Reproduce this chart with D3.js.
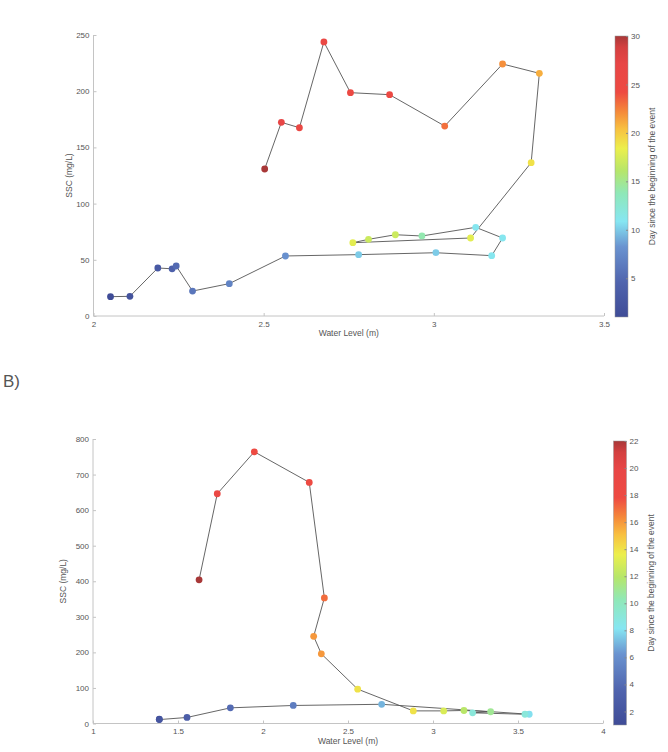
<!DOCTYPE html>
<html><head><meta charset="utf-8">
<script src="https://cdn.jsdelivr.net/npm/d3@7"></script>
<style>body{margin:0;background:#fff}svg text{font-family:"Liberation Sans",Arial,sans-serif}</style>
</head><body><svg id="c" width="668" height="752"></svg>
<script>
// Panel A data
const topWL  = [2.05,2.107,2.189,2.231,2.243,2.291,2.399,2.564,2.779,3.006,3.170,3.202,3.123,2.965,2.887,2.808,2.762,3.108,3.286,3.310,3.202,3.032,2.870,2.755,2.677,2.605,2.552,2.503];
const topSSC = [17.2,17.5,42.7,42,44.5,22.2,28.8,53.4,54.6,56.3,53.7,69.4,78.9,71.2,72.3,68.2,65.2,69.4,136.4,215.9,224.2,169.0,196.9,198.7,243.8,167.5,172.3,130.8];
const topDay = [1,2,3,4,5,6,7,8,10,10,11,11,11,14,17,17,18,18,19,21,22,23,25,25,26,26,27,30];
// Panel B data
const botWL  = [1.39,1.39,1.553,1.808,2.178,2.698,3.566,3.541,3.233,3.339,3.182,3.063,2.884,2.557,2.343,2.298,2.361,2.272,1.949,1.731,1.624];
const botSSC = [12,11,17,44,50.7,54,26,26,30,33,36.6,35.5,35.5,96.6,196,245,353,678,764,646,404];
const botDay = [1,2,3,4,5,7,8,9,9,11,12,13,14,14,16,16,17,18,18,19,22];

const topXTicks=[2,2.5,3,3.5], topYTicks=[0,50,100,150,200,250], topCTicks=[5,10,15,20,25,30];
const botXTicks=[1,1.5,2,2.5,3,3.5,4], botYTicks=[0,100,200,300,400,500,600,700,800], botCTicks=[2,4,6,8,10,12,14,16,18,20,22];

const svg=d3.select("#c");
const cmapStops=["#3f4c97","#4f63ad","#6a93d0","#86e6f2","#8fe8b8","#b6e66a","#ecef4c","#f8c040","#f58a3a","#ee4a42","#e84646","#d44040","#a83838"];
const cmapPos=[0,0.12,0.25,0.34,0.44,0.52,0.6,0.67,0.73,0.8,0.9,0.96,1];
const cmapScale=d3.scaleLinear().domain(cmapPos).range(cmapStops).interpolate(d3.interpolateRgb);

function panel(o){
  const x=d3.scaleLinear().domain(o.xd).range([o.x0,o.x1]);
  const y=d3.scaleLinear().domain(o.yd).range([o.y0,o.y1]);
  const c=d3.scaleLinear().domain(o.cd).range([0,1]);
  const g=svg.append("g");
  const ax=g.append("g").attr("transform",`translate(0,${o.y0})`)
    .call(d3.axisBottom(x).tickValues(o.xt).tickSize(-3).tickPadding(5).tickFormat(d=>String(d)));
  const ay=g.append("g").attr("transform",`translate(${o.x0},0)`)
    .call(d3.axisLeft(y).tickValues(o.yt).tickSize(-3).tickPadding(4).tickFormat(d=>String(d)));
  [ax,ay].forEach(a=>{a.selectAll("path,line").attr("stroke","#c4c4c4");
    a.selectAll("text").attr("fill","#555").style("font-size","8px").style("font-family","Liberation Sans,Arial,sans-serif");});
  ax.select(".domain").attr("d",`M${o.x0},0H${o.x1}`);
  ay.select(".domain").attr("d",`M0,${o.y0}V${o.y1}`);
  g.append("text").attr("x",(o.x0+o.x1)/2).attr("y",o.y0+20).attr("text-anchor","middle")
    .attr("fill","#555").style("font-size","8.5px").text("Water Level (m)");
  g.append("text").attr("transform",`translate(${o.ylx},${(o.y0+o.y1)/2}) rotate(-90)`).attr("text-anchor","middle")
    .attr("fill","#555").style("font-size","8.5px").text("SSC (mg/L)");
  const pts=o.wl.map((w,i)=>({w,s:o.ssc[i],d:o.day[i]}));
  g.append("path").datum(pts).attr("fill","none").attr("stroke","#555").attr("stroke-width",0.9)
    .attr("d",d3.line().x(p=>x(p.w)).y(p=>y(p.s)));
  g.selectAll("circle.p").data(pts).enter().append("circle").attr("class","p")
    .attr("cx",p=>x(p.w)).attr("cy",p=>y(p.s)).attr("r",3.4).attr("fill",p=>cmapScale(c(p.d)));
  // colorbar
  const cb=d3.scaleLinear().domain(o.cd).range([o.cbBottom,o.cbTop]);
  const gid="grad"+o.id;
  const grad=svg.append("defs").append("linearGradient").attr("id",gid).attr("x1",0).attr("y1",1).attr("x2",0).attr("y2",0);
  cmapPos.forEach((p,i)=>grad.append("stop").attr("offset",p).attr("stop-color",cmapStops[i]));
  g.append("rect").attr("x",o.cbx).attr("y",o.cbTop).attr("width",o.cbw).attr("height",o.cbBottom-o.cbTop)
    .attr("fill",`url(#${gid})`).attr("stroke","#999").attr("stroke-width",0.5);
  const ac=g.append("g").attr("transform",`translate(${o.cbx+o.cbw},0)`)
    .call(d3.axisRight(cb).tickValues(o.ct).tickSize(-2).tickPadding(3).tickFormat(d=>String(d)));
  ac.select(".domain").remove();
  ac.selectAll("line").attr("stroke","#888");
  ac.selectAll("text").attr("fill","#555").style("font-size","8px");
  g.append("text").attr("transform",`translate(${o.cbx+o.cbw+27},${(o.cbTop+o.cbBottom)/2}) rotate(-90)`)
    .attr("text-anchor","middle").attr("fill","#555").style("font-size","8.5px").text("Day since the beginning of the event");
}

panel({id:"a",xd:[2,3.5],yd:[0,250],x0:93.5,x1:604,y0:316,y1:35,xt:topXTicks,yt:topYTicks,
  wl:topWL,ssc:topSSC,day:topDay,cd:[1,30],ct:topCTicks,cbx:615,cbw:13,cbTop:36,cbBottom:317,ylx:72});
panel({id:"b",xd:[1,4],yd:[0,800],x0:93,x1:603,y0:723.5,y1:439,xt:botXTicks,yt:botYTicks,
  wl:botWL,ssc:botSSC,day:botDay,cd:[1,22],ct:botCTicks,cbx:613.5,cbw:13,cbTop:441,cbBottom:725,ylx:66});

svg.append("text").attr("x",3).attr("y",387).attr("fill","#555").style("font-size","17px").text("B)");
</script></body></html>
